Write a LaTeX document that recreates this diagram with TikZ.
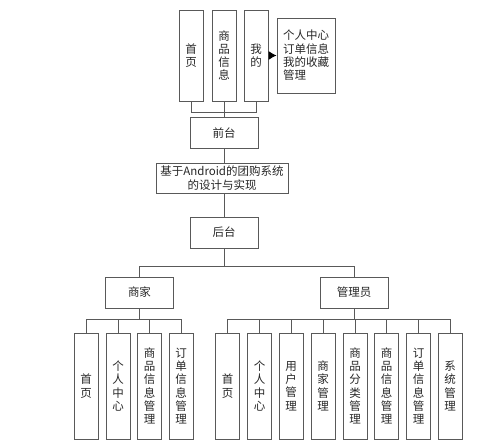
\documentclass[tikz,border=0pt]{standalone}
\usepackage{fontspec}
\setmainfont{Noto Sans CJK SC}
\usetikzlibrary{arrows.meta}
\tikzset{
    every node/.style={rectangle, draw=black!65, line width=0.9pt, inner sep=0pt,
    	align=center, text=black!85, font=\fontsize{11.5}{13.3}\selectfont},
    col/.style={minimum width=24pt, minimum height=106pt},
    top/.style={minimum width=24pt, minimum height=91pt},
    mid/.style={minimum width=68pt, minimum height=31pt}
}

\begin{document}
\begin{tikzpicture}[x=1pt, y=-1pt, line width=0.9pt, draw=black!65]
  \useasboundingbox (0,0) rectangle (499,444);
  % front end
  \node (t_1) [top] at (191, 55.5) {首\\页};
  \node (t_2) [top] at (224, 55.5) {商\\品\\信\\息};
  \node (t_3) [top] at (256, 55.5) {我\\的};
  \node (t_4) [minimum width=58pt, minimum height=75pt, align=left] at (306, 55.5)
    {个人中心\\订单信息\\我的收藏\\管理};
  \node (qt) [mid] at (224, 133) {前台};
  \node (main) [minimum width=132pt, minimum height=30pt] at (222, 178)
    {基于Android的团购系统\\的设计与实现};
  \node (ht) [mid] at (224, 232.5) {后台};
  \node (sj) [mid] at (139.5, 292.5) {商家};
  \node (gly) [mid] at (354, 292.5) {管理员};

  % merchant
  \node (s_1) [col] at (86, 386) {首\\页};
  \node (s_2) [col] at (118, 386) {个\\人\\中\\心};
  \node (s_3) [col] at (149.5, 386) {商\\品\\信\\息\\管\\理};
  \node (s_4) [col] at (181, 386) {订\\单\\信\\息\\管\\理};

  % admin
  \node (g_1) [col] at (227.5, 386) {首\\页};
  \node (g_2) [col] at (259.5, 386) {个\\人\\中\\心};
  \node (g_3) [col] at (291, 386) {用\\户\\管\\理};
  \node (g_4) [col] at (323, 386) {商\\家\\管\\理};
  \node (g_5) [col] at (355, 386) {商\\品\\分\\类\\管\\理};
  \node (g_6) [col] at (386.5, 386) {商\\品\\信\\息\\管\\理};
  \node (g_7) [col] at (418.5, 386) {订\\单\\信\\息\\管\\理};
  \node (g_8) [col] at (450, 386) {系\\统\\管\\理};

  \coordinate (f_bus) at (224, 112);
  \coordinate (h_bus) at (224, 266);
  \coordinate (s_bus) at (139.5, 319);
  \coordinate (g_bus) at (354, 319);

  \draw (t_3) edge [-{Latex[length=8pt, width=9pt, black]}] (t_4);
  \draw (t_1.south) |- (f_bus);
  \draw (t_3.south) |- (f_bus);
  \draw (t_2.south) -- (qt.north);
  \draw (qt.south) -- (qt.south |- main.north);
  \draw (main.south -| ht) -- (ht.north);
  \draw (ht.south) -- (h_bus);
  \draw (sj.north) |- (h_bus);
  \draw (gly.north) |- (h_bus);
  \draw (sj.south) -- (s_bus);
  \draw (gly.south) -- (g_bus);
  \draw (s_1.north) |- (s_bus);
  \draw (s_2.north) |- (s_bus);
  \draw (s_3.north) |- (s_bus);
  \draw (s_4.north) |- (s_bus);
  \draw (g_1.north) |- (g_bus);
  \draw (g_2.north) |- (g_bus);
  \draw (g_3.north) |- (g_bus);
  \draw (g_4.north) |- (g_bus);
  \draw (g_5.north) |- (g_bus);
  \draw (g_6.north) |- (g_bus);
  \draw (g_7.north) |- (g_bus);
  \draw (g_8.north) |- (g_bus);
\end{tikzpicture}
\end{document}
